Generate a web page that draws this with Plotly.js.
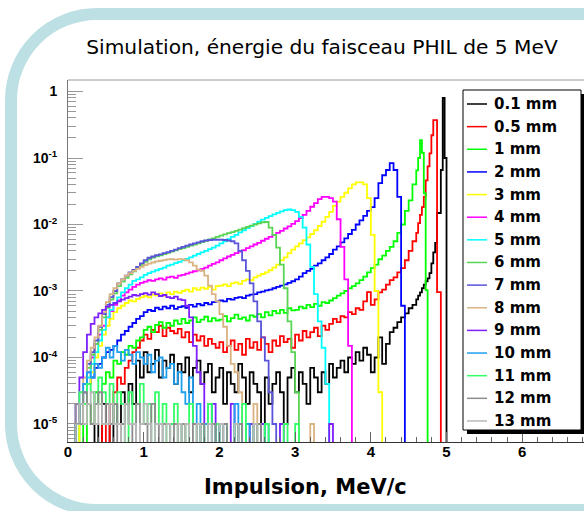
<!DOCTYPE html>
<html><head><meta charset="utf-8">
<script src="https://cdn.plot.ly/plotly-3.0.1.min.js"></script>
<style>
html,body{margin:0;padding:0;background:#fff;width:584px;height:511px;overflow:hidden}
#frame{position:absolute;left:5px;top:8px;width:720px;height:508px;border:12px solid #bde0e4;border-radius:92px;box-sizing:border-box}
#chart{position:absolute;left:0;top:0;width:584px;height:511px}
</style></head><body>
<div id="frame"></div><div id="chart"></div>
<script>
// Histogram counts per bin (1 count = NORM). Bins: 0.05 MeV from 0 to 4.6, then 0.025 MeV from 4.6.
const NORM = 1e-5;
const labels = ["0.1 mm","0.5 mm","1 mm","2 mm","3 mm","4 mm","5 mm","6 mm","7 mm","8 mm","9 mm","10 mm","11 mm","12 mm","13 mm"];
const colors = ["#000000","#ff0000","#00ff00","#0000ff","#ffff00","#ff00ff","#00ffff","#59d454","#5954d9","#d9b382","#7d1fff","#1e9ff0","#33ff66","#8c8c8c","#b8b8b8"];

const counts_0p1mm = [0,0,0,0,0,0,0,1,0,2, 1,0,2,1,3,2,4,2,9,5, 12,6,8,13,5,9,7,11,4,8, 6,10,3,7,9,4,6,8,3,5,
  7,2,6,4,3,8,5,2,6,4, 3,0,5,2,4,6,3,1,5,7, 3,6,4,2,7,5,3,6,4,8, 5,7,9,6,10,8,12,9,14,11,
  6,10,20,8,16,24,28,34,40,46, 55,62,
  75,85,95,110,125,140,155,185,260,380,530,1490,1490,6600,80000,10000];
const counts_0p5mm = [0,0,0,0,0,0,0,0,0,1, 0,2,3,5,4,7,9,12,14,18, 22,19,26,24,30,21,28,25,23,27, 20,24,17,22,18,21,15,19,16,14,
  17,12,15,18,13,16,11,19,14,17, 13,20,16,12,18,15,21,17,19,14, 22,18,25,20,24,28,21,30,26,32, 38,34,42,40,48,45,55,52,70,96,
  62,75,95,105,125,146,160,190,220,290, 400,560,
  750,1050,1400,1830,2600,4600,7500,11700,22000,37000,37000,96,96];
const counts_1mm = [0,0,0,1,0,2,1,3,2,4, 6,5,9,8,12,11,15,14,18,20, 26,29,24,31,34,28,33,30,36,32, 38,33,36,40,34,37,41,35,39,36,
  37,42,35,39,44,38,40,36,43,41, 45,40,48,43,50,46,52,47,55,51, 52,58,55,62,57,64,60,68,66,72, 78,85,92,100,110,118,130,146,165,190,
  220,250,300,340,400,460,560,750,1000,1600, 2300,4000,
  6500,10000,18600,12000,2950,103];
const counts_2mm = [0,0,1,2,3,4,5,7,8,10, 12,13,15,18,22,25,29,33,38,42, 48,52,50,56,53,58,55,60,54,57, 59,56,62,58,64,61,66,63,68,70,
  72,70,76,74,79,81,78,85,88,90, 95,98,102,105,110,115,120,126,132,140, 150,165,185,200,215,240,260,290,320,360,
  420,470,540,620,720,830,1000,1150,1350,1600, 1830,2500,4200,5500,6600,8400,6600,2600,60];
const counts_3mm = [0,0,0,1,2,4,6,10,15,22, 30,38,48,55,60,66,72,70,76,80, 84,80,88,86,92,85,95,90,98,94, 100,105,98,110,104,112,108,115,105,118,
  120,126,118,130,135,128,142,150,145,160, 170,180,190,205,225,250,290,320,370,420, 470,520,580,640,720,820,950,1100,1300,1550,
  1900,2200,2600,3000,3500,4000,4300,4300,4000,2500, 700,100,3];
const counts_4mm = [0,0,1,2,3,6,10,16,22,30, 40,50,62,72,85,95,105,115,125,132, 138,145,142,150,155,148,160,165,158,170, 175,182,190,198,205,215,225,240,255,270,
  290,310,330,350,370,390,410,440,470,500, 530,570,610,650,700,750,800,870,940,1020, 1120,1250,1400,1600,1850,2100,2400,2600,2600,2500,
  2200,1200,460,150,15];
const counts_5mm = [0,0,1,2,3,5,8,12,18,26, 40,52,66,80,95,110,125,142,150,160, 175,185,195,205,215,225,240,250,262,275, 290,305,320,340,360,380,400,425,450,480,
  520,560,600,650,700,760,820,880,950,1020, 1100,1180,1260,1340,1420,1500,1580,1650,1680,1650, 1550,1300,900,500,230,90,35,14,4];
const counts_6mm = [0,0,1,2,4,7,11,16,26,40, 56,74,92,118,138,158,178,198,220,248, 275,300,318,332,345,360,375,390,408,425, 440,460,480,500,520,545,570,595,620,650,
  680,710,740,770,800,840,880,920,960,1000, 1040,1080,1090,900,700,450,250,110,35,12, 3];
const counts_7mm = [0,0,1,2,4,8,12,18,29,45, 62,81,100,130,150,170,190,207,230,260, 290,316,330,345,355,370,385,400,420,440, 460,480,500,520,540,560,575,585,590,590,
  590,585,575,560,520,400,290,200,130,70, 35,20,9,3,1];
const counts_8mm = [0,0,1,2,5,9,14,20,30,48, 68,90,110,130,150,170,185,200,215,230, 245,258,268,278,285,292,298,300,296,302, 298,288,270,240,210,200,170,120,90,70,
  45,29,15,8,6,3,0,1,0,2, 0,1,0,0,0,0,0,0,0,0, 0,0,0,0,1];
const counts_9mm = [0,0,2,5,12,22,32,40,46,52, 58,62,66,70,74,78,82,87,85,90, 93,88,95,90,84,87,81,78,82,75, 73,60,40,15,6,4,1,0,2,0,
  1,0,0,2,0,1,0,0,1,0, 0,1,0,0,0,0,1,0,0,0, 0,0,0,0,0,0,0,0,0,1];
const counts_10mm = [0,0,1,2,4,6,5,8,7,10, 14,10,15,12,9,13,11,8,12,10, 8,11,6,9,10,5,7,8,4,6, 3,2,5,1,2,0,1,2,0,1,
  0,1,0,0,2,0,0,1,0,0, 0,0,1];
const counts_11mm = [0,0,1,3,2,4,3,2,5,3, 2,4,1,3,2,0,3,1,2,4, 1,2,0,3,1,2,0,1,2,0, 1,0,2,1,0,1,0,2,0,1,
  0,1,0,0,1,0,2,0,0,1, 0,0,1,0,0,0,0,1,0,0, 1];
const counts_12mm = [0,0,2,1,3,2,1,2,3,1, 2,1,2,0,1,2,1,0,2,1, 1,0,2,1,0,1,1,0,1,0, 1,0,0,1,0,1,0,0,1,0, 0,1,0,0,0,1,0,0,0,0, 1];
const counts_13mm = [0,0,1,2,1,2,3,1,2,1, 1,2,1,1,0,2,1,1,0,1, 2,1,0,1,1,0,1,0,0,1, 0,1,0,0,1,0,0,1,0,0, 1,0,0,0,1,0,0,0,0,1];

const series = [counts_0p1mm,counts_0p5mm,counts_1mm,counts_2mm,counts_3mm,counts_4mm,counts_5mm,
  counts_6mm,counts_7mm,counts_8mm,counts_9mm,counts_10mm,counts_11mm,counts_12mm,counts_13mm];

// bin edges
const edges = [];
for (let i = 0; i <= 92; i++) edges.push(+(0.05 * i).toFixed(3));
for (let k = 1; k <= 24; k++) edges.push(+(4.6 + 0.025 * k).toFixed(4));

const FLOOR = 3e-6; // empty bins drawn down to the axis floor (below range)
const traces = series.map((c, s) => {
  const x = [], y = [];
  c.forEach((v, b) => { x.push(edges[b]); y.push(v > 0 ? v * NORM : FLOOR); });
  x.push(edges[c.length]); y.push(FLOOR);
  return {x, y, type: 'scatter', mode: 'lines', line: {shape: 'hv', color: colors[s], width: 1.8},
          hoverinfo: 'skip', showlegend: false, name: labels[s]};
});

const yMajor = [1e-5, 1e-4, 1e-3, 1e-2, 1e-1, 1];
const yMajorText = ['10<sup>-5</sup>','10<sup>-4</sup>','10<sup>-3</sup>','10<sup>-2</sup>','10<sup>-1</sup>','1'];
const yMinor = [];
for (let e = -6; e <= 0; e++) for (let d = 2; d <= 9; d++) yMinor.push(d * Math.pow(10, e));
const xMajor = [0,1,2,3,4,5,6];

// pixel helpers for layout (plot area: x 68..584, y 80..442)
const px = v => (v - 68) / 516;
const py = v => (442 - v) / 362;

const shapes = [
  {type:'line', xref:'paper', yref:'paper', x0:0, x1:1, y0:1, y1:1, line:{color:'#9a9a9a', width:1}},
  {type:'rect', xref:'paper', yref:'paper', x0:px(467), x1:px(586), y0:py(434), y1:py(94), fillcolor:'#000', line:{width:0}, layer:'above'},
  {type:'rect', xref:'paper', yref:'paper', x0:px(463), x1:px(581), y0:py(430), y1:py(90), fillcolor:'#fff', line:{color:'#000', width:1}, layer:'above'}
];
const annotations = [];
labels.forEach((lab, i) => {
  const yc = 104 + i * 22.64;
  shapes.push({type:'line', xref:'paper', yref:'paper', x0:px(467), x1:px(487), y0:py(yc), y1:py(yc),
               line:{color:colors[i], width:1.5}, layer:'above'});
  annotations.push({xref:'paper', yref:'paper', x:px(492), y:py(yc), xanchor:'left', yanchor:'middle',
    text:lab, showarrow:false, font:{family:'DejaVu Sans', size:15, weight:'bold', color:'#000'}});
});
annotations.push({xref:'paper', yref:'paper', x:px(305), y:py(487), xanchor:'center', yanchor:'middle',
  text:'Impulsion, MeV/c', showarrow:false, font:{family:'DejaVu Sans', size:21, weight:'bold', color:'#000'}});

const layout = {
  width:584, height:511,
  margin:{l:68, r:0, t:80, b:69, pad:0},
  paper_bgcolor:'rgba(0,0,0,0)', plot_bgcolor:'#fff',
  showlegend:false,
  title:{text:'Simulation, énergie du faisceau PHIL de 5 MeV', x:322/584, xanchor:'center', y:1-47/511, yanchor:'middle',
         font:{family:'DejaVu Sans', size:20.2, color:'#000'}},
  xaxis:{range:[0,6.816], tickmode:'array', tickvals:xMajor, ticktext:xMajor.map(String),
    ticks:'inside', ticklen:10, tickcolor:'#666', tickwidth:1, showline:true, linecolor:'#333', linewidth:1,
    showgrid:false, zeroline:false, ticklabelstandoff:-4,
    tickfont:{family:'Liberation Sans, Arial', size:15, weight:'bold', color:'#000'},
    minor:{ticks:'inside', ticklen:5, dtick:0.2, tick0:0, tickcolor:'#666', showgrid:false}},
  yaxis:{type:'log', range:[-5.271,0.173], tickmode:'array', tickvals:yMajor, ticktext:yMajorText,
    ticks:'inside', ticklen:15, tickcolor:'#999', tickwidth:1, showline:true, linecolor:'#777', linewidth:1,
    showgrid:false, zeroline:false, ticklabelstandoff:7,
    tickfont:{family:'Liberation Sans, Arial', size:14, weight:'bold', color:'#000'},
    minor:{tickmode:'array', tickvals:yMinor, ticks:'inside', ticklen:8, tickcolor:'#999', showgrid:false}},
  shapes, annotations
};

Plotly.newPlot('chart', traces, layout, {staticPlot:true, displayModeBar:false});
</script></body></html>
